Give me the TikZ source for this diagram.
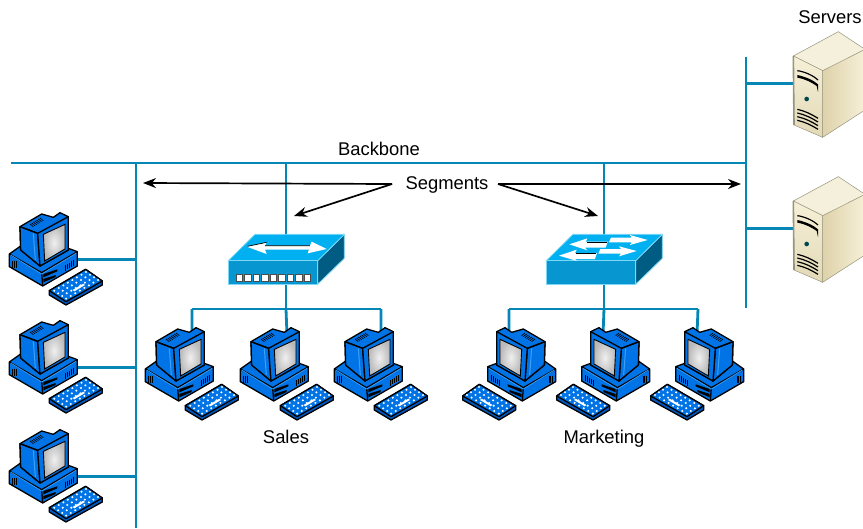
\documentclass[tikz,border=0pt]{standalone}
\usepackage{fontspec}
\setmainfont{Liberation Sans}
\usetikzlibrary{arrows.meta,backgrounds}
\definecolor{netline}{RGB}{6,134,180}
\definecolor{pcblue}{RGB}{0,116,230}
\definecolor{pclight}{RGB}{60,160,250}
\definecolor{pcdark}{RGB}{0,88,190}
\definecolor{swtop}{RGB}{0,176,240}
\definecolor{swfront}{RGB}{8,150,208}
\definecolor{swside}{RGB}{0,92,130}
\definecolor{swedge}{RGB}{125,215,245}
\definecolor{srvfront}{RGB}{246,240,216}
\definecolor{srvtop}{RGB}{245,240,220}
\definecolor{srvside}{RGB}{222,210,170}
\definecolor{srvedge}{RGB}{150,148,125}
\tikzset{
  link/.style={draw=netline,line width=2.8pt},
  segarrow/.style={draw=black,line width=1.7pt,-{Stealth[length=13pt,width=10pt]}},
  label/.style={font=\fontsize{18.4}{20}\selectfont,inner sep=0pt,anchor=base},
  pcline/.style={draw=black,line width=1.3pt,line join=round},
  thinpc/.style={draw=pclight,line width=.7pt},
  swface/.style={draw=swedge,line width=.8pt,line join=round},
  srvline/.style={draw=black,line width=1.2pt},
}
% #1 name, #2 x origin, #3 y origin, #4 mirror sign
\newcommand{\pcicon}[4]{%
\begin{scope}[shift={(#2,#3)},xscale=#4*0.3333,yscale=0.3333]
  \coordinate (#1-top) at (168,60);
  \coordinate (#1-side) at (226,178);
  % base
  \filldraw[pcline,fill=pcblue] (28,162)--(62,138)--(205,145)--(232,155)--(232,198)--(128,258)--(28,200)--cycle;
  \draw[pcline] (28,162)--(125,218)--(232,155);
  \draw[pcline] (125,218)--(128,258);
  \draw[thinpc] (32,165)--(125,222)--(228,160);
  \foreach \xx in {38,43,48}{\draw[black,line width=.8pt] (\xx,182)--(\xx,203);}
  \foreach \i in {0,...,4}{\draw[black,line width=.8pt] (197+\i*6,195-\i*3.5)--(197+\i*6,212-\i*3.5);}
  \fill[black] (130,222)--(172,208)--(172,214)--(130,232)--cycle;
  \fill[black] (130,237)--(167,225)--(167,231)--(130,247)--cycle;
  % monitor body
  \filldraw[pcline,fill=pcblue] (60,80)--(125,42)--(160,52)--(180,38)--(205,50)--(205,150)--(120,198)--(62,150)--cycle;
  \filldraw[pcline,fill=pcblue] (60,80)--(113,100)--(120,198)--(62,150)--cycle;
  \draw[thinpc,line width=1pt] (100,100)--(106,180);
  \filldraw[pcline,fill=pcblue] (113,100)--(205,50)--(205,150)--(120,198)--cycle;
  \draw[pcline] (60,80)--(113,100);
  \foreach \i in {0,...,6}{\draw[black,line width=.7pt] (90+\i*5,72-\i*3)--(100+\i*5,80-\i*3);}
  \shade[inner color=gray!12,outer color=gray!55,draw=black,line width=.9pt] (130,103)--(195,73)--(195,147)--(134,183)--cycle;
  % keyboard
  \filldraw[pcline,fill=pcdark] (148,272)--(257,208)--(307,243)--(307,255)--(198,315)--(148,285)--cycle;
  \filldraw[pcline,fill=pcblue] (148,272)--(257,208)--(307,243)--(198,305)--cycle;
  \foreach \u in {0.07,0.195,...,0.95}{
    \foreach \v in {0.14,0.38,0.62,0.86}{
      \fill[white] ({148+109*\u+50*\v},{272-64*\u+33*\v}) circle (3.4);
    }}
  \fill[white] (218,270)--(250,251)--(255,255)--(223,274)--cycle;
\end{scope}}
% #1 name, #2 x, #3 y
\newcommand{\servericon}[3]{%
\begin{scope}[shift={(#2,#3)},scale=0.3333]
  \coordinate (#1-port) at (42,160);
  \shade[left color=srvside,right color=srvfront,draw=srvedge,line width=.5pt] (128,120)--(255,50)--(255,240)--(128,322)--cycle;
  \fill[srvtop,draw=srvedge,line width=.5pt] (40,78)--(175,5)--(255,58)--(128,122)--cycle;
  \shade[top color=srvfront,bottom color=srvside!85!white,draw=srvedge,line width=.5pt] (40,78)--(128,122)--(128,322)--(42,285)--cycle;
  \draw[srvedge,line width=1.6pt] (40,78)--(42,285);
  \draw[srvline] (52,122) .. controls (75,125) and (100,137) .. (114,150);
  \fill[black] (52,135) .. controls (75,140) and (100,150) .. (114,163)--(114,186)--(110,168) .. controls (95,157) and (75,147) .. (52,143)--cycle;
  \fill[black!60!green!70!blue] (80,207) circle (7);
  \foreach \i in {0,1,2,3}{\draw[srvline] (52,238+\i*11) .. controls (75,243+\i*11) and (95,253+\i*11) .. (114,265+\i*11);}
\end{scope}}
% #1 name, #2 x, #3 y  (top and front faces common)
\newcommand{\switchbody}[3]{%
\begin{scope}[shift={(#2,#3)},scale=0.3333]
  \coordinate (#1-top) at (214,40);
  \coordinate (#1-bottom) at (174,178);
  \filldraw[swface,fill=swside] (308,107)--(388,28)--(388,100)--(308,178)--cycle;
  \filldraw[swface,fill=swtop] (40,107)--(120,28)--(388,28)--(308,107)--cycle;
  \filldraw[swface,fill=swfront] (40,107)--(308,107)--(308,178)--(40,178)--cycle;
\end{scope}}
\begin{document}
\begin{tikzpicture}[x=1pt,y=-1pt]
\useasboundingbox (0,0) rectangle (863,528);

% devices
\pcicon{lpc1}{0}{200}{1}
\pcicon{lpc2}{0}{308}{1}
\pcicon{lpc3}{0}{417}{1}
\pcicon{spc1}{136}{315}{1}
\pcicon{spc2}{231}{315}{1}
\pcicon{spc3}{325}{315}{1}
\pcicon{mpc1}{565}{315}{-1}
\pcicon{mpc2}{659}{315}{-1}
\pcicon{mpc3}{753}{315}{-1}
\begin{scope}
\clip (0,0) rectangle (863,528);
\servericon{srv1}{780}{30}
\servericon{srv2}{780}{175}
\end{scope}

\switchbody{swS}{215}{225}
\begin{scope}[shift={(215,225)},scale=0.3333]
  \fill[white] (95,65)--(155,52)--(150,62)--(285,62)--(290,50)--(335,72)--(278,85)--(282,74)--(150,74)--(155,87)--cycle;
  \draw[black,line width=.7pt] (97,64)--(155,52) (150,62)--(285,62);
  \foreach \i in {0,...,8}{
    \fill[white,draw=black!70,line width=.4pt] (63+\i*25.5,149) rectangle +(19,19);
  }
\end{scope}

\switchbody{swM}{533}{225}
\begin{scope}[shift={(535,225)},scale=0.3333]
  \fill[white] (103,58)--(157,40)--(152,50)--(218,50)--(212,68)--(150,68)--(157,76)--cycle;
  \fill[white] (228,38)--(290,38)--(285,30)--(338,45)--(285,60)--(290,52)--(222,52)--cycle;
  \fill[white] (72,92)--(125,74)--(120,84)--(186,84)--(180,102)--(120,102)--(126,108)--cycle;
  \fill[white] (196,72)--(258,72)--(252,64)--(305,78)--(252,94)--(258,86)--(190,86)--cycle;
  \draw[black,line width=.8pt] (157,51)--(216,51) (122,85)--(184,85);
\end{scope}

% junctions
\coordinate (bbL) at (11,163);
\coordinate (bbR) at (746,163);
\coordinate (segL) at (136,163);
\coordinate (segLend) at (136,528);
\coordinate (segRtop) at (746,57);
\coordinate (segRend) at (746,308);
\coordinate (jS) at (286,163);
\coordinate (jM) at (604,163);
\coordinate (busS) at (286,309);
\coordinate (busM) at (604,309);
\coordinate (busSL) at (192,309);
\coordinate (busSR) at (381,309);
\coordinate (busML) at (509,309);
\coordinate (busMR) at (698,309);

\begin{scope}[on background layer]
\draw[link] (bbL)--(bbR);
\draw[link] (segL)--(segLend);
\draw[link] (segRtop)--(segRend);
\draw[link] (jS)--(busS);
\draw[link] (jM)--(busM);
\draw[link] (busSL)--(busSR);
\draw[link] (busML)--(busMR);
\draw[link] (busSL)--(spc1-top);
\draw[link] (busS)--(spc2-top);
\draw[link] (busSR)--(spc3-top);
\draw[link] (busML)--(mpc1-top);
\draw[link] (busM)--(mpc2-top);
\draw[link] (busMR)--(mpc3-top);
\draw[link] (lpc1-side)--(lpc1-side-|segL);
\draw[link] (lpc2-side)--(lpc2-side-|segL);
\draw[link] (lpc3-side)--(lpc3-side-|segL);
\draw[link] (srv1-port)--(srv1-port-|segRtop);
\draw[link] (srv2-port)--(srv2-port-|segRtop);
\end{scope}

% labels
\node[label] (servers) at (830,23) {Servers};
\node[label] (backbone) at (379,155) {Backbone};
\node[label] (segments) at (447,189) {Segments};
\node[label] (sales) at (286,443) {Sales};
\node[label] (marketing) at (604,443) {Marketing};

% segment arrows
\coordinate (tipA) at (143,183);
\coordinate (tipB) at (294,216);
\coordinate (tipC) at (741,184);
\coordinate (tipD) at (598,216);
\coordinate (fromL) at (392,184);
\coordinate (fromR) at (498,184);
\draw[segarrow] (fromL) -- (tipA);
\draw[segarrow] (fromL) -- (tipB);
\draw[segarrow] (fromR) -- (tipC);
\draw[segarrow] (fromR) -- (tipD);
\end{tikzpicture}
\end{document}
